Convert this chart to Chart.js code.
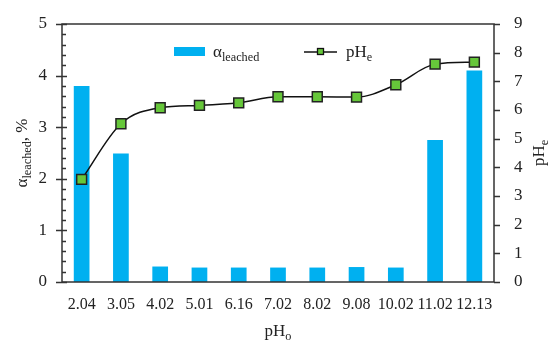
<!DOCTYPE html>
<html>
<head>
<meta charset="utf-8">
<script src="https://cdn.jsdelivr.net/npm/chart.js@4/dist/chart.umd.min.js"></script>
<style>
  html, body { margin: 0; background: #fff; }
  #wrap { width: 550px; height: 347px; }
</style>
</head>
<body>
<div id="wrap"><canvas id="chart"></canvas></div>
<script>
// dados
const phInicial = ['2.04', '3.05', '4.02', '5.01', '6.16', '7.02', '8.02', '9.08', '10.02', '11.02', '12.13'];
const alfaLixiviado = [3.80, 2.49, 0.30, 0.28, 0.28, 0.28, 0.28, 0.29, 0.28, 2.75, 4.10];
const phEquilibrio = [3.58, 5.52, 6.08, 6.16, 6.25, 6.46, 6.46, 6.45, 6.88, 7.60, 7.67];
const ticksEsq = [0, 1, 2, 3, 4, 5];
const ticksDir = [0, 1, 2, 3, 4, 5, 6, 7, 8, 9];

const FONTE = '"Liberation Serif", "DejaVu Serif", serif';
const COR_TEXTO = '#222';
const AZUL = '#00B0F0';
const VERDE = '#66C73A';

// desenha texto com subscrito, começando em x (baseline y); retorna largura
function textoSub(ctx, x, y, main, sub, depois, size, medir){
  ctx.font = `${size}px ${FONTE}`;
  const w1 = ctx.measureText(main).width;
  ctx.font = `${size * 0.72}px ${FONTE}`;
  const w2 = ctx.measureText(sub).width;
  ctx.font = `${size}px ${FONTE}`;
  const w3 = depois ? ctx.measureText(depois).width : 0;
  if(!medir){
    ctx.font = `${size}px ${FONTE}`;
    ctx.fillText(main, x, y);
    ctx.font = `${size * 0.72}px ${FONTE}`;
    ctx.fillText(sub, x + w1, y + size * 0.25);
    if(depois){
      ctx.font = `${size}px ${FONTE}`;
      ctx.fillText(depois, x + w1 + w2, y);
    }
  }
  return w1 + w2 + w3;
}

const moldura = {
  id: 'moldura',
  afterDraw(chart){
    const ctx = chart.ctx;
    const a = chart.chartArea;
    const yE = chart.scales.y, yD = chart.scales.y1;
    ctx.save();
    ctx.strokeStyle = '#333';
    ctx.lineWidth = 1.5;
    ctx.strokeRect(a.left, a.top, a.right - a.left, a.bottom - a.top);

    ctx.beginPath();
    // eixo esquerdo: maiores cruzando, menores para dentro
    for(let v = 0; v <= 5.001; v += 0.2){
      const py = Math.round(yE.getPixelForValue(v)) + 0.5;
      const maior = Math.abs(v - Math.round(v)) < 0.01;
      ctx.moveTo(a.left - (maior ? 6 : 0), py);
      ctx.lineTo(a.left + (maior ? 5 : 4), py);
    }
    // eixo direito: para fora
    ticksDir.forEach(v => {
      const py = Math.round(yD.getPixelForValue(v)) + 0.5;
      ctx.moveTo(a.right, py);
      ctx.lineTo(a.right + 6, py);
    });
    ctx.stroke();

    ctx.fillStyle = COR_TEXTO;
    ctx.textBaseline = 'alphabetic';
    ctx.textAlign = 'left';

    // legenda
    ctx.fillStyle = AZUL;
    ctx.fillRect(174, 47, 31, 9);
    ctx.fillStyle = COR_TEXTO;
    textoSub(ctx, 213, 57, 'α', 'leached', '', 17);

    ctx.strokeStyle = '#111';
    ctx.lineWidth = 1.3;
    ctx.beginPath();
    ctx.moveTo(304, 52); ctx.lineTo(337, 52);
    ctx.stroke();
    ctx.fillStyle = VERDE;
    ctx.fillRect(317.5, 48.5, 6, 6);
    ctx.strokeRect(317.5, 48.5, 6, 6);
    ctx.fillStyle = COR_TEXTO;
    textoSub(ctx, 346, 57, 'pH', 'e', '', 17);

    // título do eixo x
    let w = textoSub(ctx, 0, 0, 'pH', 'o', '', 17, true);
    textoSub(ctx, (a.left + a.right) / 2 - w / 2, 336, 'pH', 'o', '', 17);

    // título eixo esquerdo
    ctx.save();
    ctx.translate(27, (a.top + a.bottom) / 2);
    ctx.rotate(-Math.PI / 2);
    w = textoSub(ctx, 0, 0, 'α', 'leached', ', %', 17, true);
    textoSub(ctx, -w / 2, 0, 'α', 'leached', ', %', 17);
    ctx.restore();

    // título eixo direito
    ctx.save();
    ctx.translate(544, (a.top + a.bottom) / 2);
    ctx.rotate(-Math.PI / 2);
    w = textoSub(ctx, 0, 0, 'pH', 'e', '', 17, true);
    textoSub(ctx, -w / 2, 0, 'pH', 'e', '', 17);
    ctx.restore();

    ctx.restore();
  }
};

const ctx = document.getElementById('chart').getContext('2d');
const chart = new Chart(ctx, {
  type: 'bar',
  data: {
    labels: phInicial,
    datasets: [
      {
        type: 'line',
        label: 'pHe',
        data: phEquilibrio,
        yAxisID: 'y1',
        borderColor: '#111',
        borderWidth: 1.5,
        cubicInterpolationMode: 'monotone',
        pointStyle: 'rect',
        pointRadius: 7,
        pointBackgroundColor: VERDE,
        pointBorderColor: '#222',
        pointBorderWidth: 1.5,
        order: 0
      },
      {
        label: 'αleached',
        data: alfaLixiviado,
        yAxisID: 'y',
        backgroundColor: AZUL,
        barPercentage: 0.8,
        categoryPercentage: 0.5,
        order: 1
      }
    ]
  },
  options: {
    responsive: true,
    maintainAspectRatio: false,
    animation: false,
    layout: { padding: { top: 24, left: 0, right: 0, bottom: 0 } },
    plugins: { legend: { display: false }, tooltip: { enabled: false } },
    scales: {
      x: {
        grid: { display: false },
        border: { display: false },
        ticks: { color: COR_TEXTO, font: { family: FONTE, size: 16 }, padding: 5, maxRotation: 0, autoSkip: false },
        afterFit(s){ s.height = 65; }
      },
      y: {
        position: 'left',
        min: 0, max: 5,
        grid: { display: false },
        border: { display: false },
        afterBuildTicks(s){ s.ticks = ticksEsq.map(v => ({ value: v })); },
        ticks: { color: COR_TEXTO, font: { family: FONTE, size: 17 }, padding: 7 },
        afterFit(s){ s.width = 62; }
      },
      y1: {
        position: 'right',
        min: 0, max: 9,
        grid: { display: false },
        border: { display: false },
        afterBuildTicks(s){ s.ticks = ticksDir.map(v => ({ value: v })); },
        ticks: { color: COR_TEXTO, font: { family: FONTE, size: 17 }, padding: 12 },
        afterFit(s){ s.width = 56; }
      }
    }
  },
  plugins: [moldura]
});
</script>
</body>
</html>
